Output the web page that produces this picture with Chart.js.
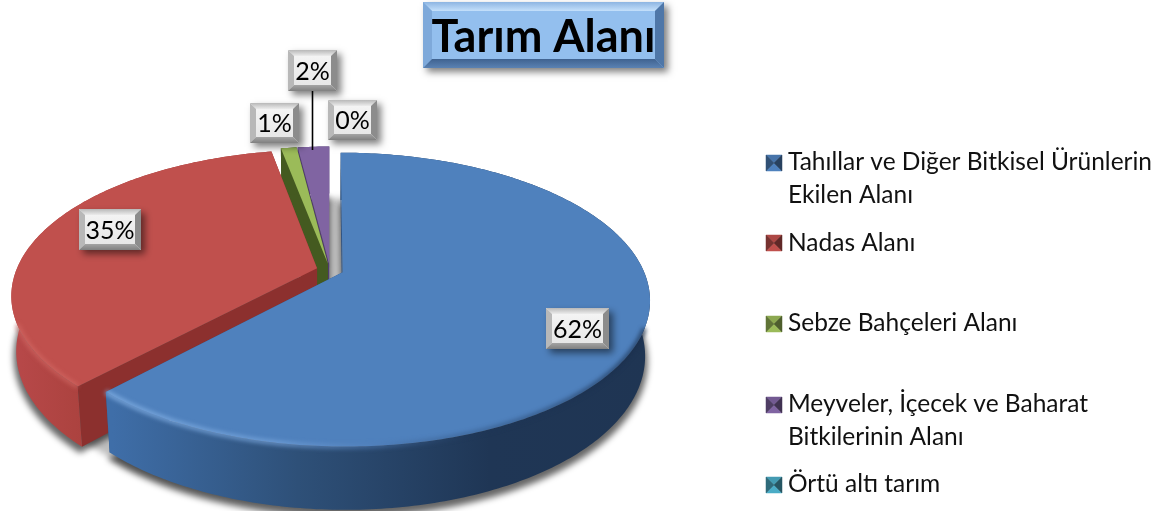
<!DOCTYPE html>
<html lang="tr">
<head>
<meta charset="utf-8">
<style>html,body{margin:0;padding:0;background:#fff}canvas{display:block}</style>
<script src="https://cdn.jsdelivr.net/npm/chart.js@4"></script>
</head>
<body>
<canvas id="c" width="1158" height="511"></canvas>
<script>
// ---- data ----
const chartTitle = "Tarım Alanı";
const categories = [
  "Tahıllar ve Diğer Bitkisel Ürünlerin Ekilen Alanı",
  "Nadas Alanı",
  "Sebze Bahçeleri Alanı",
  "Meyveler, İçecek ve Baharat Bitkilerinin Alanı",
  "Örtü altı tarım"
];
const values = [62, 35, 1, 2, 0];
const sliceColors = ["#4f81bd", "#c0504d", "#9bbb59", "#8064a2", "#4bacc6"];
const sideColors  = ["#2f5383", "#8c302e", "#445a20", "#4f3a6e", "#2a6f82"];

// ---- layout (perspective of the disk, label and legend placement) ----
const P = {cx:330, cy:270, R:300.7, S:141, k:0.185, D:55, c:0.015, explode:0.045};
const labelBoxes = [
  {x:546, y:308, w:63, h:41},
  {x:79,  y:209, w:62, h:41},
  {x:250, y:103, w:49, h:40},
  {x:288, y:50,  w:49, h:41, leader:150},
  {x:328, y:100, w:49, h:40}
];
const legendLayout = {markerX:766, textX:788, size:16, lineH:33, wrap:372,
  tops:[155, 235, 316, 397, 477], baseline:[170, 251, 331, 412, 492]};
const titleBox = {x:423, y:2, w:241, h:66};
const uiFont = 'Lato, "Open Sans", sans-serif';

function project(u, v, z) {
  const w = 1 - P.k * v + P.c * z;
  return [P.cx + P.R * u / w, P.cy + (P.S * v + P.D * z) / w];
}
function arcPoints(a0, a1, ou, ov, z, scale) {
  const pts = [], n = Math.max(2, Math.ceil(Math.abs(a1 - a0) / 0.015));
  for (let i = 0; i <= n; i++) {
    const a = a0 + (a1 - a0) * i / n;
    pts.push(project(ou + Math.cos(a) * (scale || 1), ov + Math.sin(a) * (scale || 1), z));
  }
  return pts;
}
function tracePoly(ctx, pts) {
  ctx.beginPath();
  pts.forEach((p, i) => i ? ctx.lineTo(p[0], p[1]) : ctx.moveTo(p[0], p[1]));
  ctx.closePath();
}
function hGrad(ctx, stops) {
  const g = ctx.createLinearGradient(10, 0, 650, 0);
  stops.forEach(s => g.addColorStop(s[0], s[1]));
  return g;
}
const wallStops = [
  [[0,"#3f6ea8"],[0.16,"#3f6ea8"],[0.45,"#2e5078"],[0.75,"#1f3655"],[1,"#1f3553"]],
  [[0,"#b8494a"],[0.1,"#ad4340"],[0.2,"#a23d3a"],[1,"#8c302e"]]
];
const rimStops = [
  [[0,"rgba(140,185,235,.8)"],[0.42,"rgba(120,165,220,.7)"],[0.58,"rgba(80,125,185,.5)"],[0.72,"rgba(30,55,90,.3)"],[1,"rgba(25,45,75,.7)"]],
  [[0,"rgba(215,110,105,.55)"],[0.2,"rgba(215,110,105,.55)"],[1,"rgba(200,90,90,.2)"]]
];

function drawPie3D(chart) {
  const ctx = chart.ctx, arcs = chart.getDatasetMeta(0).data;
  const slices = arcs.map((el, i) => {
    const a0 = el.startAngle, a1 = el.endAngle, m = (a0 + a1) / 2;
    return {i, a0, a1, ou:Math.cos(m) * P.explode, ov:Math.sin(m) * P.explode};
  });
  // ground shadow
  ctx.save();
  ctx.filter = "blur(3px)";
  ctx.fillStyle = "rgba(0,0,0,.26)";
  tracePoly(ctx, arcPoints(0, Math.PI * 2, 0, 0, 1, 1));
  ctx.fill();
  ctx.fillStyle = "rgba(0,0,0,.6)";
  slices.forEach(s => {
    if (s.a1 - s.a0 < 1e-4) return;
    const pts = [project(s.ou, s.ov, 1), ...arcPoints(s.a0, s.a1, s.ou, s.ov, 1, 1.008)].map(p => [p[0], p[1] + 5]);
    tracePoly(ctx, pts);
    ctx.fill();
  });
  ctx.restore();
  // slices back to front
  slices.slice().reverse().forEach(s => {
    if (s.a1 - s.a0 < 1e-4) return;
    const topArc = arcPoints(s.a0, s.a1, s.ou, s.ov, 0);
    const botArc = arcPoints(s.a0, s.a1, s.ou, s.ov, 1);
    const apexT = project(s.ou, s.ov, 0), apexB = project(s.ou, s.ov, 1);
    ctx.fillStyle = sideColors[s.i];
    [[topArc[0], botArc[0]], [topArc[topArc.length - 1], botArc[botArc.length - 1]]].forEach(e => {
      tracePoly(ctx, [apexT, e[0], e[1], apexB]);
      ctx.fill();
    });
    ctx.fillStyle = wallStops[s.i] ? hGrad(ctx, wallStops[s.i]) : sideColors[s.i];
    tracePoly(ctx, topArc.concat(botArc.slice().reverse()));
    ctx.fill();
    // top face
    const face = [apexT, ...topArc];
    ctx.fillStyle = sliceColors[s.i];
    tracePoly(ctx, face);
    ctx.fill();
    // soft bevel along the near part of the rim
    if (rimStops[s.i]) {
      const near = topArc.filter(p => p[1] > apexT[1] + 55);
      ctx.save();
      ctx.filter = "blur(2px)";
      ctx.strokeStyle = hGrad(ctx, rimStops[s.i]);
      ctx.lineWidth = 5;
      ctx.lineCap = "butt";
      ctx.beginPath();
      near.forEach((p, k) => k ? ctx.lineTo(p[0], p[1]) : ctx.moveTo(p[0], p[1]));
      ctx.stroke();
      ctx.restore();
    }
  });
}

function bevelBox(ctx, b, bev, c) {
  ctx.save();
  ctx.shadowColor = "rgba(0,0,0,.5)";
  ctx.shadowBlur = 7; ctx.shadowOffsetX = 4; ctx.shadowOffsetY = 4;
  ctx.fillStyle = c.face;
  ctx.fillRect(b.x, b.y, b.w, b.h);
  ctx.restore();
  const x0 = b.x, y0 = b.y, x1 = b.x + b.w, y1 = b.y + b.h;
  const ix0 = x0 + bev, iy0 = y0 + bev, ix1 = x1 - bev, iy1 = y1 - bev;
  const side = (pts, col) => { ctx.fillStyle = col; tracePoly(ctx, pts); ctx.fill(); };
  side([[x0,y0],[x1,y0],[ix1,iy0],[ix0,iy0]], c.top);
  side([[x0,y0],[ix0,iy0],[ix0,iy1],[x0,y1]], c.left);
  side([[x1,y0],[x1,y1],[ix1,iy1],[ix1,iy0]], c.right);
  side([[x0,y1],[ix0,iy1],[ix1,iy1],[x1,y1]], c.bottom);
  ctx.fillStyle = c.face;
  ctx.fillRect(ix0, iy0, ix1 - ix0, iy1 - iy0);
}
function vGrad(ctx, y0, y1, a, b) {
  const g = ctx.createLinearGradient(0, y0, 0, y1);
  g.addColorStop(0, a); g.addColorStop(1, b);
  return g;
}

function drawLabels(ctx) {
  values.forEach((v, i) => {
    const b = labelBoxes[i];
    if (b.leader) {
      ctx.strokeStyle = "#000"; ctx.lineWidth = 1.6;
      ctx.beginPath();
      ctx.moveTo(b.x + b.w / 2, b.y + b.h);
      ctx.lineTo(b.x + b.w / 2, b.leader);
      ctx.stroke();
    }
    bevelBox(ctx, b, 6, {
      face: vGrad(ctx, b.y, b.y + b.h, "#f6f6f6", "#e4e4e4"),
      top: vGrad(ctx, b.y, b.y + 6, "#b8b8b8", "#ececec"),
      left: "#b8b8b8", right: "#8c8c8c",
      bottom: vGrad(ctx, b.y + b.h - 6, b.y + b.h, "#a4a4a4", "#808080")
    });
    ctx.fillStyle = "#000";
    ctx.font = "25px " + uiFont;
    ctx.textAlign = "center";
    ctx.textBaseline = "alphabetic";
    ctx.fillText(v + "%", b.x + b.w / 2, b.y + b.h / 2 + 9);
  });
}

function wrapText(ctx, text, maxW) {
  const lines = []; let cur = "";
  text.split(" ").forEach(w => {
    const t = cur ? cur + " " + w : w;
    if (ctx.measureText(t).width > maxW && cur) { lines.push(cur); cur = w; } else cur = t;
  });
  lines.push(cur);
  return lines;
}
function shade(hex, f) {
  const n = parseInt(hex.slice(1), 16);
  const ch = s => Math.round(((n >> s) & 255) * f);
  return `rgb(${ch(16)},${ch(8)},${ch(0)})`;
}
function drawLegend(ctx) {
  const L = legendLayout;
  ctx.font = "24.5px " + uiFont;
  ctx.textAlign = "left";
  ctx.textBaseline = "alphabetic";
  categories.forEach((name, i) => {
    const x = L.markerX, y = L.tops[i], s = L.size, mx = x + s / 2, my = y + s / 2;
    const col = sliceColors[i];
    const tri = (pts, f) => {
      ctx.fillStyle = ctx.strokeStyle = shade(col, f);
      ctx.lineWidth = 0.5;
      tracePoly(ctx, pts); ctx.fill(); ctx.stroke();
    };
    tri([[x,y],[x+s,y],[mx,my]], 0.9);
    tri([[x,y+s],[mx,my],[x+s,y+s]], 1);
    tri([[x,y],[mx,my],[x,y+s]], 0.62);
    tri([[x+s,y],[x+s,y+s],[mx,my]], 0.5);
    ctx.fillStyle = "#111";
    wrapText(ctx, name, L.wrap).forEach((ln, k) => {
      ctx.fillText(ln, L.textX, L.baseline[i] + k * L.lineH);
    });
  });
}
function drawTitle(ctx) {
  const b = titleBox;
  bevelBox(ctx, b, 9, {
    face: "#93bfee",
    top: vGrad(ctx, b.y, b.y + 9, "#8db5e2", "#c4e0fb"),
    left: "#7ea9da", right: "#4f77a8",
    bottom: vGrad(ctx, b.y + b.h - 9, b.y + b.h, "#3f6290", "#5a82b3")
  });
  ctx.fillStyle = "#000";
  ctx.font = "bold 45px " + uiFont;
  ctx.textAlign = "center";
  ctx.textBaseline = "alphabetic";
  ctx.fillText(chartTitle, b.x + b.w / 2, b.y + 50);
}

const pie3d = {
  id: "pie3d",
  beforeDatasetDraw(chart) { drawPie3D(chart); return false; },
  afterDraw(chart) {
    const ctx = chart.ctx;
    drawLabels(ctx);
    drawLegend(ctx);
    drawTitle(ctx);
  }
};

new Chart(document.getElementById("c"), {
  type: "pie",
  data: { labels: categories, datasets: [{ data: values, backgroundColor: sliceColors, borderWidth: 0 }] },
  options: {
    responsive: false, animation: false,
    plugins: { legend: { display: false }, tooltip: { enabled: false } }
  },
  plugins: [pie3d]
});
</script>
</body>
</html>
